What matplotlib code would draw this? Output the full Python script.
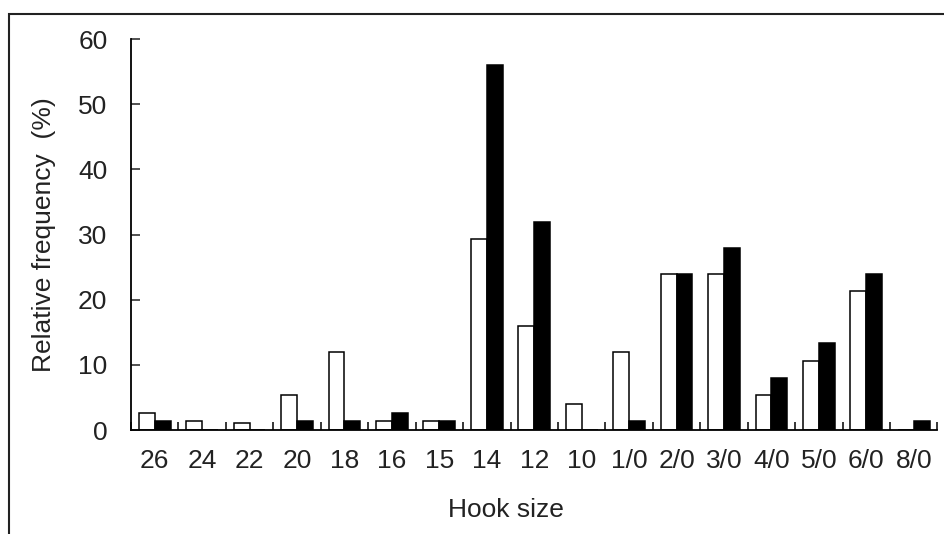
import numpy as np
import matplotlib
matplotlib.use("Agg")
import matplotlib.pyplot as plt
from matplotlib.patches import Rectangle

plt.rcParams['font.family'] = ['Liberation Sans', 'DejaVu Sans']

# Hook sizes (categories)
hook_sizes = ["26", "24", "22", "20", "18", "16", "15", "14", "12", "10",
              "1/0", "2/0", "3/0", "4/0", "5/0", "6/0", "8/0"]

# Relative frequency (%) for the two groups
open_vals = [2.67, 1.33, 1.0, 5.33, 12.0, 1.33, 1.33, 29.33, 16.0, 4.0,
             12.0, 24.0, 24.0, 5.33, 10.67, 21.33, 0.0]
filled_vals = [1.33, 0.0, 0.0, 1.33, 1.33, 2.67, 1.33, 56.0, 32.0, 0.0,
               1.33, 24.0, 28.0, 8.0, 13.33, 24.0, 1.33]

yticks = [0, 10, 20, 30, 40, 50, 60]

fig = plt.figure(figsize=(9.45, 5.34), dpi=100)
ax = fig.add_axes([131 / 945, 1 - 430 / 534, (937.5 - 131) / 945, (430 - 39.2) / 534])

n = len(hook_sizes)
centers = np.arange(n) + 0.5
w = 0.335
ax.bar(centers - w / 2, open_vals, width=w, color="white", edgecolor="black", linewidth=1.1)
ax.bar(centers + w / 2, filled_vals, width=w, color="black", edgecolor="black", linewidth=1.1)

ax.set_xlim(0, n)
ax.set_ylim(0, 60)

for s in ["top", "right"]:
    ax.spines[s].set_visible(False)
for s in ["left", "bottom"]:
    ax.spines[s].set_linewidth(1.3)

ax.set_yticks(yticks)
ax.tick_params(axis="y", direction="in", length=6.5, width=1.1, pad=17,
               labelsize=19, colors="#222222")
ax.set_xticks(np.arange(n + 1))
ax.set_xticklabels([])
ax.tick_params(axis="x", which="major", direction="in", length=6, width=1.1)
ax.set_xticks(centers, minor=True)
ax.set_xticklabels(hook_sizes, minor=True)
ax.tick_params(axis="x", which="minor", length=0, pad=14, labelsize=19, colors="#222222")

ax.set_xlabel("Hook size", fontsize=19, labelpad=20, color="#222222")
ax.xaxis.set_label_coords(0.465, -0.175)
ax.set_ylabel("Relative frequency  (%)", fontsize=19, labelpad=16, color="#222222")

# outer frame around the figure
fig.patches.append(Rectangle((9.5 / 945, -0.1), 1.5, 1 - 13.5 / 534 + 0.1,
                             transform=fig.transFigure, fill=False,
                             edgecolor="#222222", linewidth=1.5))

fig.savefig("out.png", dpi=100)
